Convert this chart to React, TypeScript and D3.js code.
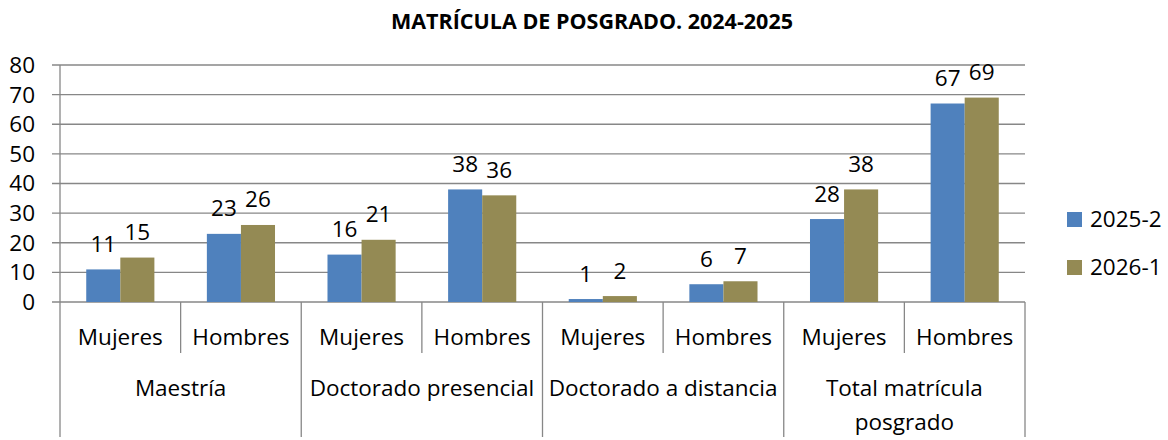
import React from "react";
import * as d3 from "d3";

const groups = ["Maestría", "Doctorado presencial", "Doctorado a distancia", "Total matrícula posgrado"];
const subCats = ["Mujeres", "Hombres"];
const series = ["2025-2", "2026-1"];
const values2025_2 = [11, 23, 16, 38, 1, 6, 28, 67];
const values2026_1 = [15, 26, 21, 36, 2, 7, 38, 69];
const yTicks = [0, 10, 20, 30, 40, 50, 60, 70, 80];
const colors = ["#4F81BD", "#948A54"];
const title = "MATRÍCULA DE POSGRADO. 2024-2025";

const FONT = "Open Sans, Liberation Sans, sans-serif";
const FS = 22.5;

export default function App() {
  const W = 1168, H = 440;
  const left = 60, right = 1025, top = 65, bottom = 302;
  const cats = groups.flatMap((g, gi) => subCats.map((s) => `${gi}|${s}`));
  const x = d3.scaleBand<string>().domain(cats).range([left, right]).padding(0);
  const inner = d3.scaleBand<string>().domain(series).range([0, x.bandwidth()]).paddingInner(0).paddingOuter(0.77);
  const y = d3.scaleLinear().domain([0, 80]).range([bottom, top]);
  const gx = d3.scaleBand<string>().domain(groups).range([left, right]).padding(0);
  const seriesVals = [values2025_2, values2026_1];
  const gridColor = "#878787";

  return (
    <svg width={W} height={H} style={{ position: "absolute", left: 0, top: 0 }} fontFamily={FONT}>
      <rect width={W} height={H} fill="#fff" />
      <text x={592} y={29} textAnchor="middle" fontWeight="bold" fontSize={21.5} fill="#000">{title}</text>
      {yTicks.map((t) => (
        <g key={t}>
          <line x1={left - 8} x2={right} y1={y(t)} y2={y(t)} stroke={gridColor} strokeWidth={1.3} />
          <text x={35} y={y(t)} dy="0.35em" textAnchor="end" fontSize={FS} fill="#000">{t}</text>
        </g>
      ))}
      <line x1={left} x2={left} y1={top} y2={437} stroke={gridColor} strokeWidth={1.3} />
      {cats.map((c, i) =>
        series.map((s, si) => {
          const v = seriesVals[si][i];
          const bx = (x(c) as number) + (inner(s) as number);
          return (
            <g key={c + s}>
              <rect x={bx} y={y(v)} width={inner.bandwidth()} height={y(0) - y(v)} fill={colors[si]} />
              <text x={bx + inner.bandwidth() / 2} y={y(v) - 17.5} textAnchor="middle" fontSize={FS} fill="#000">{v}</text>
            </g>
          );
        })
      )}
      {cats.map((c, i) => {
        const xx = (x(c) as number) + x.bandwidth();
        const isGroupEnd = i % 2 === 1;
        return <line key={"d" + c} x1={xx} x2={xx} y1={bottom} y2={isGroupEnd ? 437 : 353} stroke={gridColor} strokeWidth={1.3} />;
      })}
      {cats.map((c, i) => (
        <text key={"l" + c} x={(x(c) as number) + x.bandwidth() / 2} y={337} dy="0.35em" textAnchor="middle" fontSize={FS} fill="#000">
          {subCats[i % 2]}
        </text>
      ))}
      {groups.map((g) => {
        const cx = (gx(g) as number) + gx.bandwidth() / 2;
        const lines = g === "Total matrícula posgrado" ? ["Total matrícula", "posgrado"] : [g];
        return lines.map((ln, li) => (
          <text key={g + li} x={cx} y={388 + li * 34} dy="0.35em" textAnchor="middle" fontSize={FS} fill="#000">{ln}</text>
        ));
      })}
      {series.map((s, si) => (
        <g key={s}>
          <rect x={1067} y={212 + si * 48} width={15} height={15} fill={colors[si]} />
          <text x={1090} y={219.5 + si * 48} dy="0.35em" fontSize={FS} fill="#000">{s}</text>
        </g>
      ))}
    </svg>
  );
}
